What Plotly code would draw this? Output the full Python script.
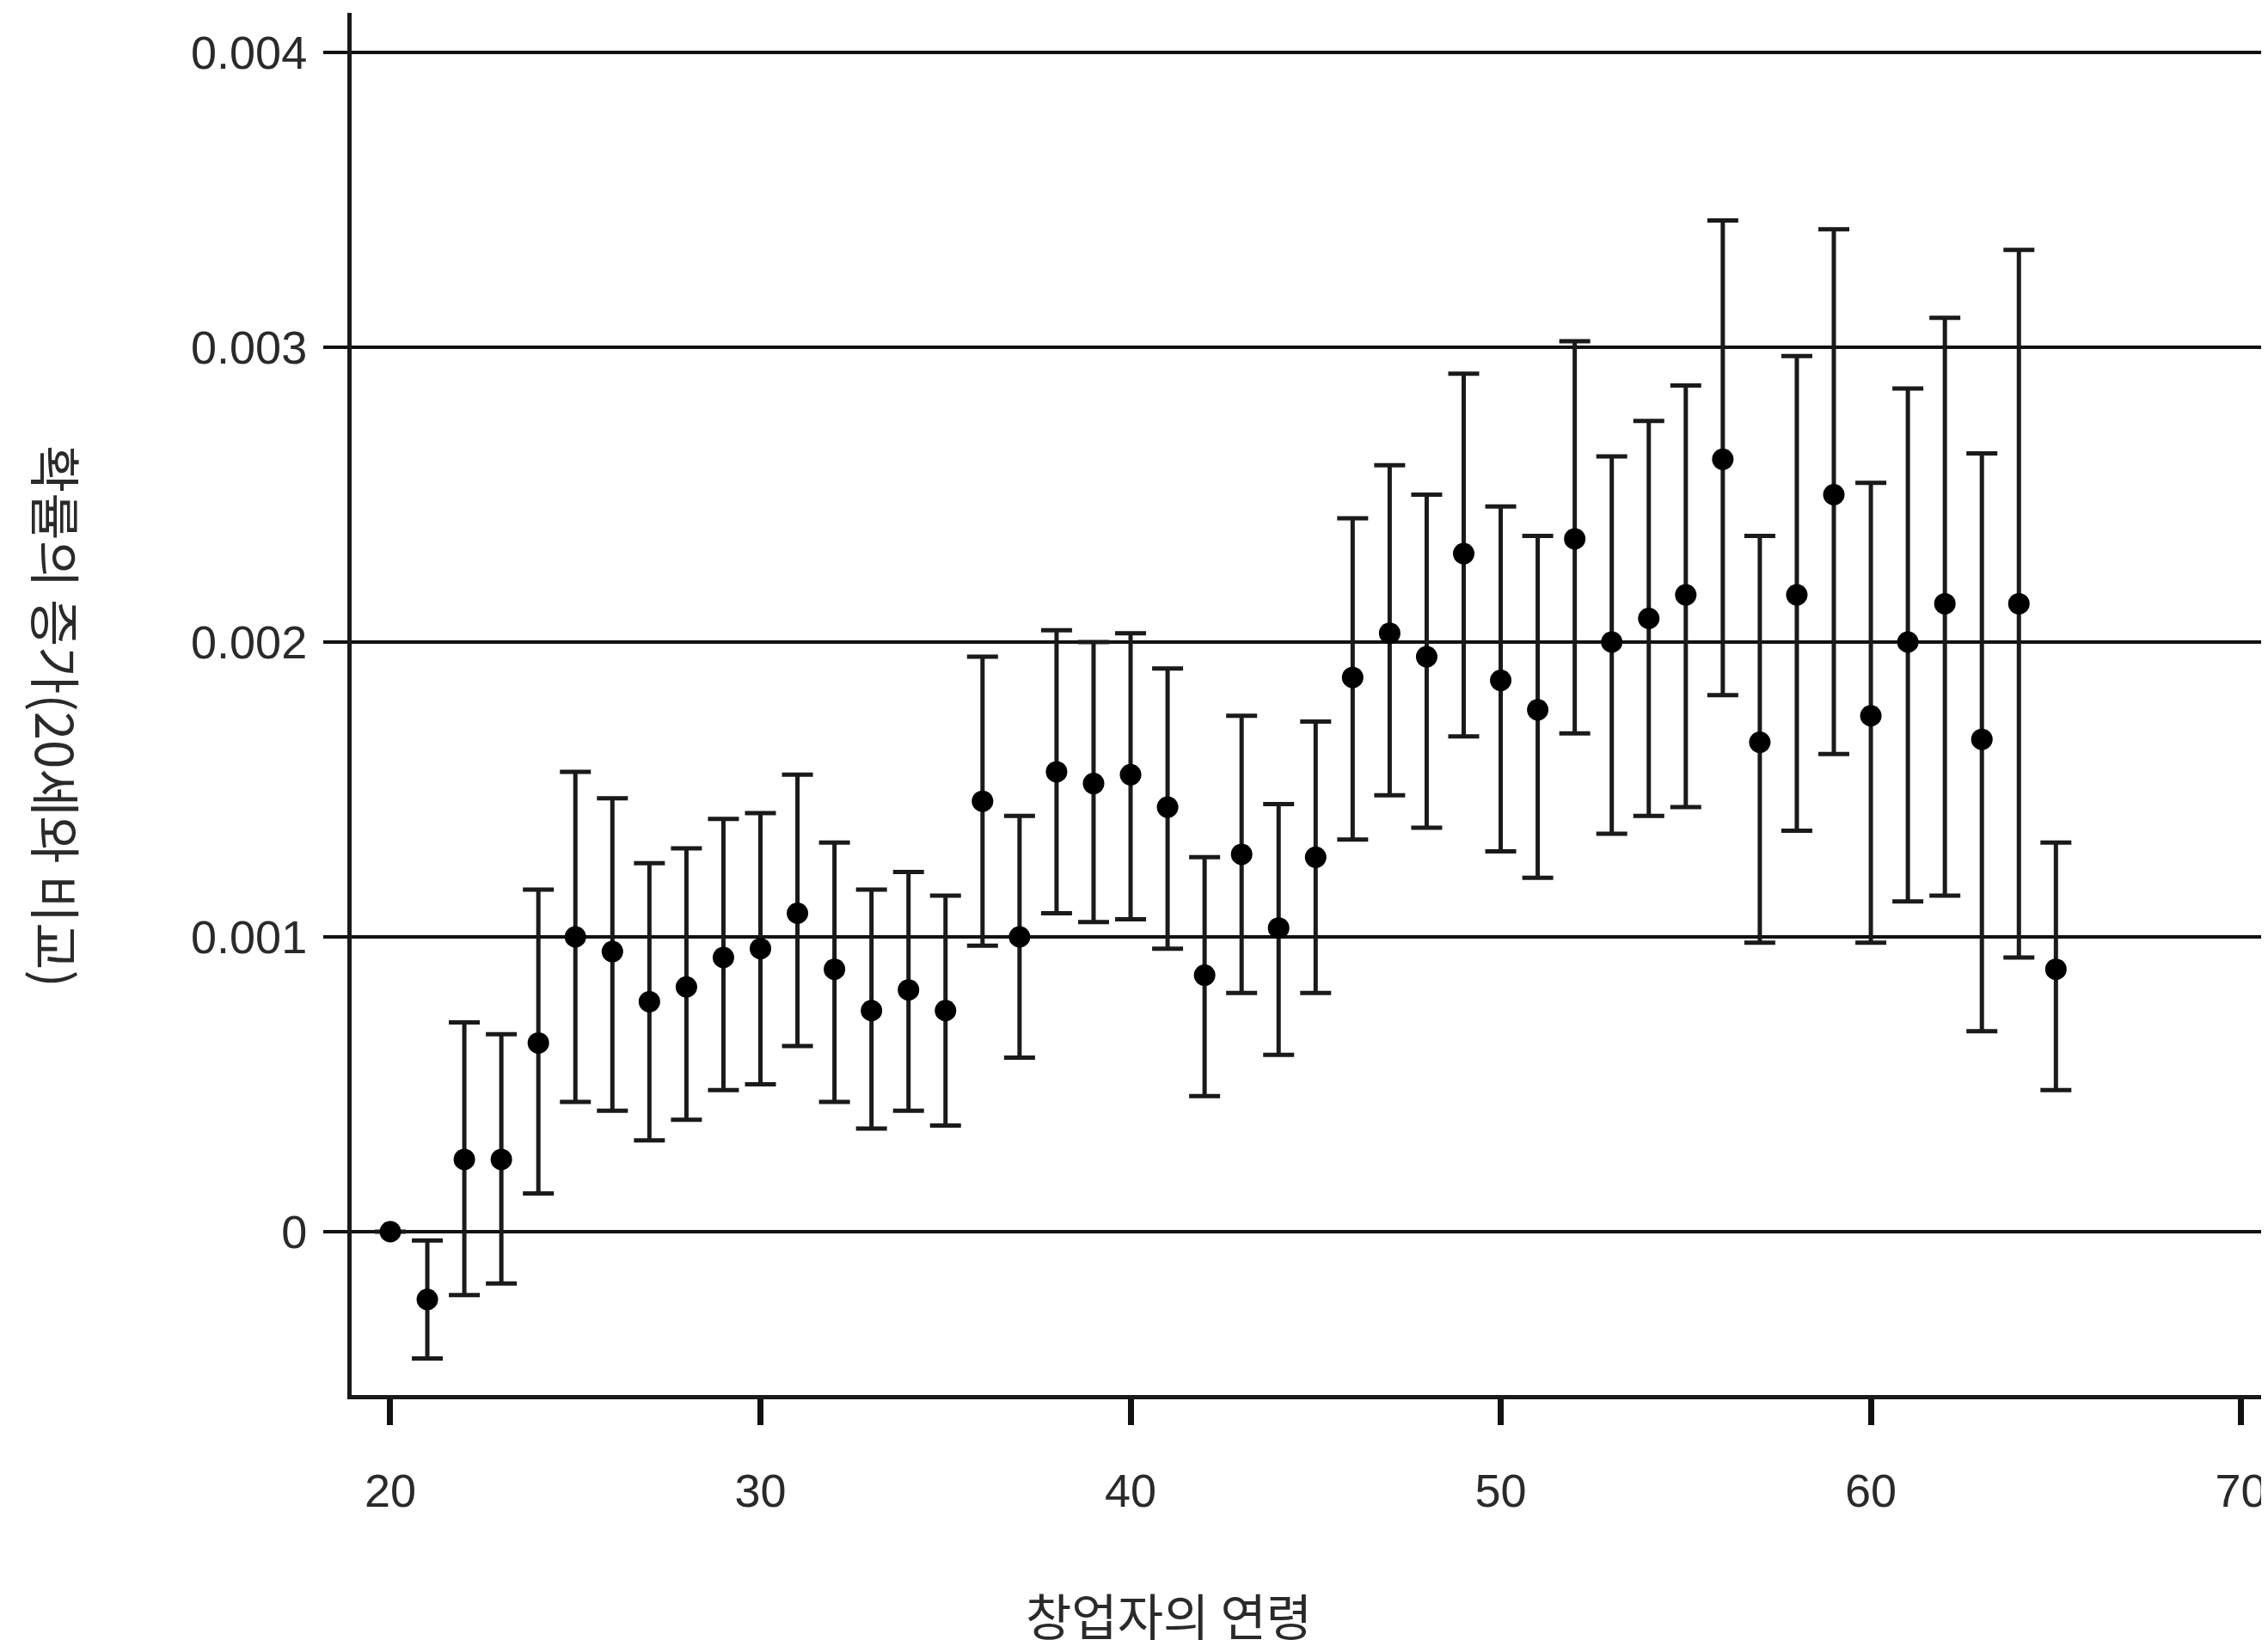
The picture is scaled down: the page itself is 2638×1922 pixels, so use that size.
import plotly.graph_objects as go

ages = list(range(20, 66))
values = [0.0, -0.00023, 0.000245, 0.000245, 0.00064, 0.001, 0.00095, 0.00078, 0.00083, 0.00093,
          0.00096, 0.00108, 0.00089, 0.00075, 0.00082, 0.00075, 0.00146, 0.001, 0.00156, 0.00152,
          0.00155, 0.00144, 0.00087, 0.00128, 0.00103, 0.00127, 0.00188, 0.00203, 0.00195, 0.0023,
          0.00187, 0.00177, 0.00235, 0.002, 0.00208, 0.00216, 0.00262, 0.00166, 0.00216, 0.0025,
          0.00175, 0.002, 0.00213, 0.00167, 0.00213, 0.00089]
upper = [None, -0.00003, 0.00071, 0.00067, 0.00116, 0.00156, 0.00147, 0.00125, 0.0013, 0.0014,
         0.00142, 0.00155, 0.00132, 0.00116, 0.00122, 0.00114, 0.00195, 0.00141, 0.00204, 0.002,
         0.00203, 0.00191, 0.00127, 0.00175, 0.00145, 0.00173, 0.00242, 0.0026, 0.0025, 0.00291,
         0.00246, 0.00236, 0.00302, 0.00263, 0.00275, 0.00287, 0.00343, 0.00236, 0.00297, 0.0034,
         0.00254, 0.00286, 0.0031, 0.00264, 0.00333, 0.00132]
lower = [None, -0.00043, -0.000215, -0.000176, 0.00013, 0.00044, 0.00041, 0.00031, 0.00038, 0.00048,
         0.0005, 0.00063, 0.00044, 0.00035, 0.00041, 0.00036, 0.00097, 0.00059, 0.00108, 0.00105,
         0.00106, 0.00096, 0.00046, 0.00081, 0.0006, 0.00081, 0.00133, 0.00148, 0.00137, 0.00168,
         0.00129, 0.0012, 0.00169, 0.00135, 0.00141, 0.00144, 0.00182, 0.00098, 0.00136, 0.00162,
         0.00098, 0.00112, 0.00114, 0.00068, 0.00093, 0.00048]

x_ticks = [20, 30, 40, 50, 60, 70]
y_ticks = [0, 0.001, 0.002, 0.003, 0.004]
y_tick_labels = ["0", "0.001", "0.002", "0.003", "0.004"]
x_title = "창업자의 연령"
y_title = "확률의 증가(20세와 비교)"

err_plus = [None if u is None else u - v for u, v in zip(upper, values)]
err_minus = [None if l is None else v - l for l, v in zip(lower, values)]

tick_font = dict(family="Liberation Sans, Arial", size=54, color="#2a2a2a")

# page body has an 8px offset; figure is sized to fill the remaining window
W, H = 2630, 1914
L, T, B, R = 401, 7, 299, 0
PW, PH = W - L - R, H - T - B

fig = go.Figure()
fig.add_trace(go.Scatter(
    x=ages, y=values, mode="markers",
    marker=dict(color="black", size=25, symbol="circle"),
    error_y=dict(type="data", symmetric=False, array=err_plus, arrayminus=err_minus,
                 color="#1a1a1a", thickness=5, width=18),
    showlegend=False,
))

fig.update_layout(
    width=W, height=H,
    margin=dict(l=L, r=R, t=T, b=B),
    paper_bgcolor="white", plot_bgcolor="white",
    xaxis=dict(range=[18.955, 70.73], tickvals=x_ticks, ticktext=[str(t) for t in x_ticks],
               showgrid=False, zeroline=False, showline=True, linecolor="#1a1a1a", linewidth=5,
               ticks="outside", ticklen=30, tickwidth=7, tickcolor="#111",
               tickfont=tick_font, ticklabelstandoff=30),
    yaxis=dict(range=[-0.000554, 0.004134], tickvals=y_ticks, ticktext=y_tick_labels,
               showgrid=True, gridcolor="#111", gridwidth=4, zeroline=False,
               showline=True, linecolor="#1a1a1a", linewidth=5,
               ticks="outside", ticklen=28, tickwidth=4, tickcolor="#111",
               tickfont=tick_font, ticklabelstandoff=8),
    annotations=[
        dict(text=x_title, xref="paper", yref="paper", x=(1359 - 409) / PW, y=-(1878 - 1623) / PH,
             showarrow=False, font=dict(family="Noto Sans CJK KR, sans-serif", size=58, color="#2a2a2a"),
             xanchor="center", yanchor="middle", borderpad=0),
        dict(text=y_title, xref="paper", yref="paper", x=-(409 - 67) / PW, y=(1623 - 833) / PH,
             showarrow=False, font=dict(family="Noto Sans CJK KR, sans-serif", size=60, color="#2a2a2a"),
             textangle=90, xanchor="center", yanchor="middle"),
    ],
)

fig.write_html("out.html")
